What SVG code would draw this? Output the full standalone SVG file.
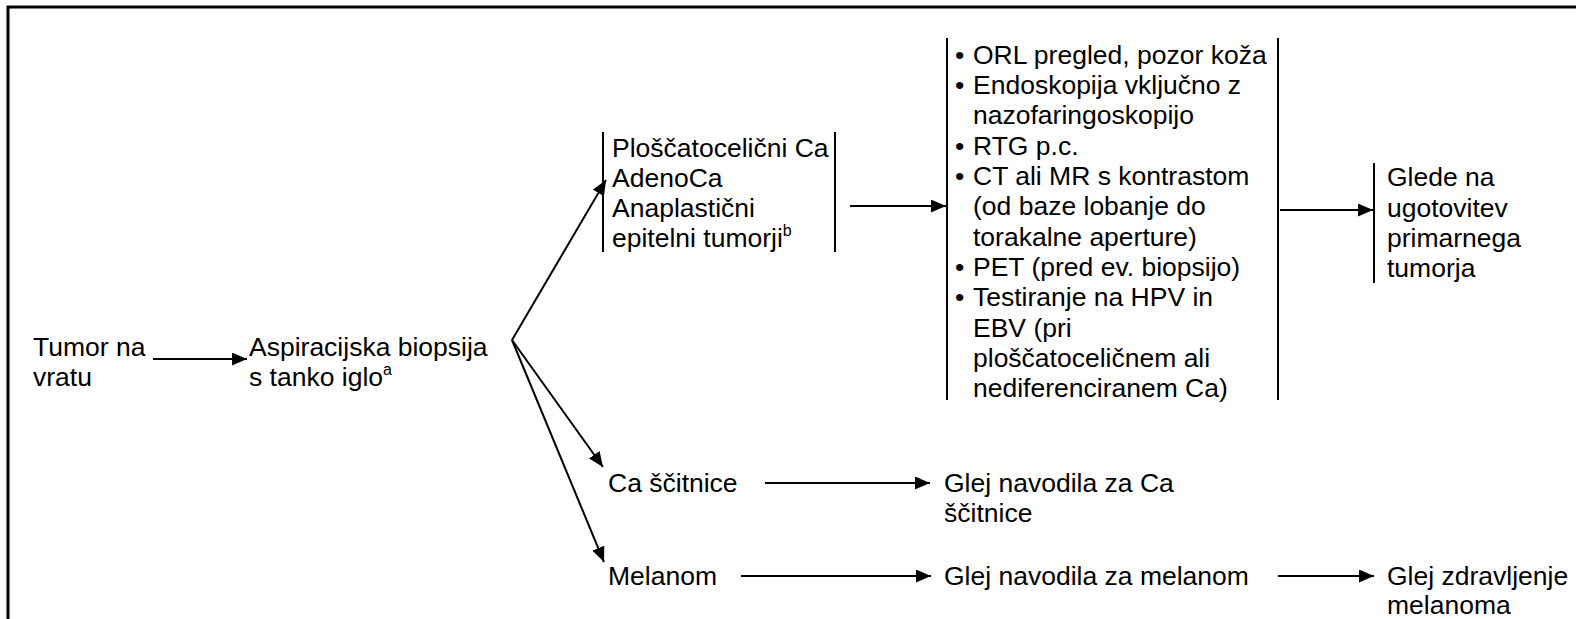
<svg xmlns="http://www.w3.org/2000/svg" width="1576" height="619" viewBox="0 0 1576 619">
<style>
text{font-family:"Liberation Sans",Arial,sans-serif;font-size:26.5px;fill:#000}
.sup{font-size:16px}
.bar{stroke:#000;stroke-width:2;fill:none}
.con{stroke:#000;stroke-width:2;fill:none;marker-end:url(#ah)}
</style>
<defs>
<marker id="ah" markerUnits="userSpaceOnUse" markerWidth="15" markerHeight="13" refX="15" refY="6.5" orient="auto">
<path d="M0,0 L15,6.5 L0,13 z" fill="#000"/>
</marker>
</defs>
<rect width="1576" height="619" fill="#fff"/>
<path d="M8,619 V7 H1576" stroke="#000" stroke-width="3" fill="none"/>
<g id="n-tumor"><text x="33" y="356">Tumor na</text><text x="33" y="386">vratu</text></g>
<g id="n-biopsija"><text x="249" y="356">Aspiracijska biopsija</text><text x="249" y="386">s tanko iglo<tspan class="sup" dy="-11">a</tspan></text></g>
<g id="n-ploscato"><line class="bar" x1="603" y1="132" x2="603" y2="252"/><line class="bar" x1="835" y1="132" x2="835" y2="252"/>
<text x="612" y="157">Ploščatocelični Ca</text><text x="612" y="187">AdenoCa</text><text x="612" y="217">Anaplastični</text><text x="612" y="247">epitelni tumorji<tspan class="sup" dy="-11">b</tspan></text></g>
<g id="n-preiskave"><line class="bar" x1="947" y1="38" x2="947" y2="400"/><line class="bar" x1="1278" y1="38" x2="1278" y2="400"/>
<text x="955" y="64">•</text><text x="973" y="64">ORL pregled, pozor koža</text>
<text x="955" y="94">•</text><text x="973" y="94">Endoskopija vključno z</text>
<text x="973" y="124">nazofaringoskopijo</text>
<text x="955" y="155">•</text><text x="973" y="155">RTG p.c.</text>
<text x="955" y="185">•</text><text x="973" y="185">CT ali MR s kontrastom</text>
<text x="973" y="215">(od baze lobanje do</text>
<text x="973" y="246">torakalne aperture)</text>
<text x="955" y="276">•</text><text x="973" y="276">PET (pred ev. biopsijo)</text>
<text x="955" y="306">•</text><text x="973" y="306">Testiranje na HPV in</text>
<text x="973" y="337">EBV (pri</text>
<text x="973" y="367">ploščatoceličnem ali</text>
<text x="973" y="397">nediferenciranem Ca)</text></g>
<g id="n-glede"><line class="bar" x1="1374" y1="163" x2="1374" y2="283"/>
<text x="1387" y="186">Glede na</text><text x="1387" y="217">ugotovitev</text><text x="1387" y="247">primarnega</text><text x="1387" y="277">tumorja</text></g>
<g id="n-scitnica"><text x="608" y="492">Ca ščitnice</text></g>
<g id="n-navodila-scit"><text x="944" y="492">Glej navodila za Ca</text><text x="944" y="522">ščitnice</text></g>
<g id="n-melanom"><text x="608" y="585">Melanom</text></g>
<g id="n-navodila-mel"><text x="944" y="585">Glej navodila za melanom</text></g>
<g id="n-zdravljenje"><text x="1387" y="585">Glej zdravljenje</text><text x="1387" y="614">melanoma</text></g>
<g id="connectors">
<line class="con" x1="153" y1="359" x2="247" y2="359"/>
<line class="con" x1="512" y1="340" x2="606" y2="180"/>
<line class="con" x1="512" y1="340" x2="603" y2="467"/>
<line class="con" x1="512" y1="340" x2="604" y2="562"/>
<line class="con" x1="850" y1="206" x2="946" y2="206"/>
<line class="con" x1="1280" y1="210" x2="1373" y2="210"/>
<line class="con" x1="765" y1="483" x2="930" y2="483"/>
<line class="con" x1="741" y1="576" x2="931" y2="576"/>
<line class="con" x1="1278" y1="576" x2="1374" y2="576"/>
</g>
</svg>
